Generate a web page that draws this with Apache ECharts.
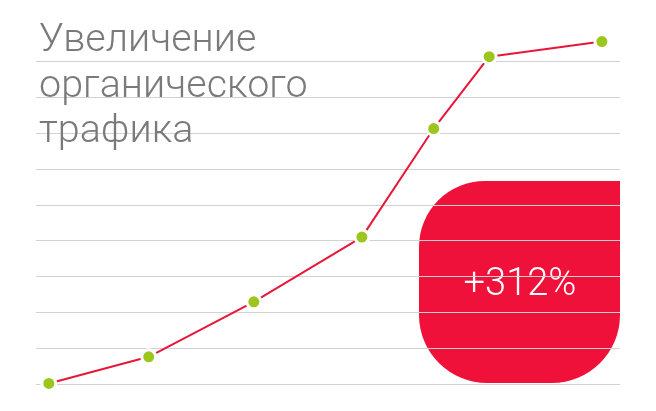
<!DOCTYPE html>
<html lang="ru">
<head>
<meta charset="UTF-8">
<title>Увеличение органического трафика</title>
<script src="https://cdn.jsdelivr.net/npm/echarts@6/dist/echarts.min.js"></script>
<style>
html, body { margin: 0; padding: 0; background: #fff; }
#chart { width: 656px; height: 411px; }
</style>
</head>
<body>
<div id="chart"></div>
<script>
// точки роста трафика (x — положение по горизонтали, y — уровень в делениях сетки)
const xValues = [2.2, 19.3, 37.3, 55.8, 68.1, 77.6, 96.9];
const yValues = [0.03, 0.77, 2.3, 4.1, 7.12, 9.12, 9.54];
const titleLines = ['Увеличение', 'органического', 'трафика'];
const badgeText = '+312%';

const points = xValues.map((x, i) => [x, yValues[i]]);
const thinFont = '"Roboto Light", "Roboto Thin", Roboto, sans-serif';

const chart = echarts.init(document.getElementById('chart'));
chart.setOption({
animation: false,
title: {
text: titleLines.join('\n'),
left: 34,
top: 12,
textStyle: {
fontFamily: thinFont,
fontWeight: 200,
fontSize: 39.5,
lineHeight: 45.5,
color: '#7a7a7a'
}
},
grid: {
left: 36,
right: 36,
top: 25,
bottom: 26.5
},
xAxis: {
type: 'value',
min: 0,
max: 100,
show: false
},
yAxis: {
type: 'value',
min: 0,
max: 10,
interval: 1,
axisLine: { show: false },
axisTick: { show: false },
axisLabel: { show: false },
splitLine: {
showMaxLine: false,
lineStyle: { color: '#d2d2d2', width: 1 }
}
},
graphic: [{
type: 'group',
right: 36,
top: 181,
z: 10,
children: [{
type: 'rect',
shape: { x: 0, y: 0, width: 201, height: 202, r: [66, 0, 68, 68] },
style: { fill: '#f0113a' }
}, {
type: 'text',
x: 101,
y: 103,
style: {
text: badgeText,
fill: '#ffffff',
font: '200 38px ' + thinFont,
align: 'center',
verticalAlign: 'middle'
}
}]
}],
series: [{
type: 'line',
data: points,
z: 5,
lineStyle: { color: '#e8173a', width: 2 },
symbol: 'circle',
symbolSize: 14,
itemStyle: {
color: '#9cc51d',
borderColor: '#ffffff',
borderWidth: 3
}
}]
});
</script>
</body>
</html>
